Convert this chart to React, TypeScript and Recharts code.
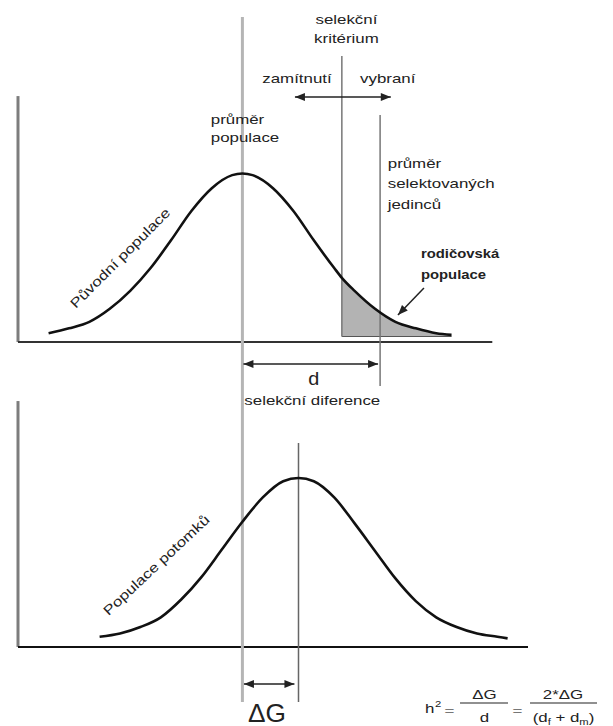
import React from 'react';
import { ComposedChart, Line, Area, XAxis, YAxis, ReferenceLine, ReferenceDot } from 'recharts';

// původní populace – výška křivky (vrchol = 1) na ose znaku 0–100
const puvodniX = [6, 10, 14, 18, 22, 26, 30, 34, 38, 42, 44, 46, 50, 54, 58, 62, 63.5, 66, 70, 74, 78, 82, 85];
const puvodniY = [0.02, 0.05, 0.09, 0.17, 0.28, 0.42, 0.59, 0.77, 0.91, 0.99, 1.0, 0.99, 0.91, 0.77, 0.59, 0.42, 0.36, 0.28, 0.17, 0.09, 0.05, 0.02, 0.01];

// populace potomků
const potomciX = [16, 20, 24, 28, 32, 36, 40, 44, 48, 52, 55, 58, 62, 66, 70, 74, 78, 82, 86, 90, 94, 96];
const potomciY = [0.02, 0.04, 0.08, 0.14, 0.25, 0.39, 0.56, 0.73, 0.88, 0.98, 1.0, 0.98, 0.88, 0.72, 0.55, 0.38, 0.24, 0.14, 0.08, 0.04, 0.02, 0.01];

// průměry a selekční kritérium na ose znaku
const prumerPopulace = 44;
const kriterium = 63.5;
const prumerVybranych = 71;
const prumerPotomku = 55;

const puvodni = puvodniX.map((x, i) => ({ x, y: puvodniY[i] }));
const potomci = potomciX.map((x, i) => ({ x, y: potomciY[i] }));
const rodicovska = puvodni.filter((p) => p.x >= kriterium);

const W = 613;
const H = 726;
const FONT = '"Liberation Sans", Arial, Helvetica, sans-serif';
const INK = '#222';

// both panels live in one plot: each y axis puts its zero line / peak where the picture has it
const TOP_DOMAIN = [-(H - 336.5) / 163, 336.5 / 163];
const BOT_DOMAIN = [-(H - 640) / 162, 640 / 162];

type NoteOpts = {
  lines: string[];
  anchor?: 'start' | 'middle' | 'end';
  size?: number;
  bold?: boolean;
  lh?: number;
  rotate?: number;
  sx?: number;
  central?: boolean;
};

const noteShape = (o: NoteOpts) => (p: any) => {
  const { lines, anchor = 'start', size = 13.5, bold = false, lh = 19, rotate = 0, sx = 1.25, central = false } = o;
  return (
    <g transform={`translate(${p.cx},${p.cy}) rotate(${rotate}) scale(${sx},1)`}>
      {lines.map((t, i) => (
        <text
          key={i}
          x={0}
          y={i * lh}
          textAnchor={anchor}
          dominantBaseline={central ? 'central' : 'alphabetic'}
          fontSize={size}
          fontWeight={bold ? 700 : 400}
          fontFamily={FONT}
          fill={INK}
        >
          {t}
        </text>
      ))}
    </g>
  );
};

const note = (key: string, axis: string, x: number, y: number, o: NoteOpts) => (
  <ReferenceDot key={key} x={x} y={y} yAxisId={axis} ifOverflow="visible" shape={noteShape(o)} />
);

const head = (xa: number, ya: number, xb: number, yb: number) => {
  const a = Math.atan2(yb - ya, xb - xa);
  const L = 10;
  const w = 4;
  const bx = xb - L * Math.cos(a);
  const by = yb - L * Math.sin(a);
  const nx = -Math.sin(a) * w;
  const ny = Math.cos(a) * w;
  return `${xb},${yb} ${bx + nx},${by + ny} ${bx - nx},${by - ny}`;
};

const arrowShape = (both: boolean) => (p: any) => {
  const { x1, y1, x2, y2 } = p;
  return (
    <g>
      <line x1={x1} y1={y1} x2={x2} y2={y2} stroke={INK} strokeWidth={1.5} />
      <polygon points={head(x1, y1, x2, y2)} fill={INK} />
      {both && <polygon points={head(x2, y2, x1, y1)} fill={INK} />}
    </g>
  );
};

const seg = (key: string, axis: string, x1: number, y1: number, x2: number, y2: number, stroke: string, width: number) => (
  <ReferenceLine
    key={key}
    yAxisId={axis}
    ifOverflow="visible"
    segment={[{ x: x1, y: y1 }, { x: x2, y: y2 }]}
    stroke={stroke}
    strokeWidth={width}
  />
);

const arrow = (key: string, axis: string, x1: number, y1: number, x2: number, y2: number, both: boolean) => (
  <ReferenceLine
    key={key}
    yAxisId={axis}
    ifOverflow="visible"
    segment={[{ x: x1, y: y1 }, { x: x2, y: y2 }]}
    shape={arrowShape(both)}
  />
);

const ft = (x: number, y: number, anchor: 'start' | 'middle', content: React.ReactNode, size = 13.5, fill = INK) => (
  <text transform={`translate(${x},${y}) scale(1.25,1)`} textAnchor={anchor} fontSize={size} fontFamily={FONT} fill={fill}>
    {content}
  </text>
);

const formulaShape = (p: any) => (
  <g transform={`translate(${p.cx},${p.cy})`}>
    {ft(-35, 10, 'start', 'h')}
    {ft(-25, 4, 'start', '2', 9)}
    {ft(-10.5, 12, 'middle', '=', 13.5, '#777')}
    <line x1={0} y1={0} x2={48} y2={0} stroke={INK} strokeWidth={1.2} />
    {ft(24.5, -4, 'middle', 'ΔG')}
    {ft(24.5, 19, 'middle', 'd')}
    {ft(57.5, 12, 'middle', '=', 13.5, '#777')}
    <line x1={70} y1={0} x2={137} y2={0} stroke={INK} strokeWidth={1.2} />
    {ft(103, -4, 'middle', '2*ΔG')}
    {ft(
      103.5,
      19,
      'middle',
      <>
        (d
        <tspan fontSize={9} dy={3}>f</tspan>
        <tspan dy={-3}> + d</tspan>
        <tspan fontSize={9} dy={3}>m</tspan>
        <tspan dy={-3}>)</tspan>
      </>
    )}
  </g>
);

export default function App() {
  return (
    <div style={{ position: 'absolute', left: 0, top: 0, width: W, height: H, background: '#fff' }}>
      <ComposedChart width={W} height={H} margin={{ top: 0, right: 85, bottom: 0, left: 18 }}>
        <XAxis type="number" dataKey="x" domain={[0, 100]} hide allowDataOverflow />
        <YAxis yAxisId="top" type="number" domain={TOP_DOMAIN} hide allowDataOverflow />
        <YAxis yAxisId="bottom" type="number" domain={BOT_DOMAIN} hide allowDataOverflow />

        {/* osy */}
        {seg('yTop', 'top', 0, 1.475, 0, -0.034, '#7d7d7d', 3)}
        {seg('xTop', 'top', 0, -0.034, 93, -0.034, '#333', 2)}
        {seg('yBot', 'bottom', 0, 1.475, 0, -0.043, '#7d7d7d', 3)}
        {seg('xBot', 'bottom', 0, -0.043, 100, -0.043, '#111', 2)}

        <Area
          yAxisId="top"
          data={rodicovska}
          dataKey="y"
          type="monotone"
          baseValue={0}
          fill="#b3b3b3"
          fillOpacity={1}
          stroke="none"
          isAnimationActive={false}
        />
        {seg('shadeBase', 'top', kriterium, 0, 85, 0, '#555', 1.2)}

        {/* svislé čáry průměrů a kritéria */}
        {seg('mPop', 'top', prumerPopulace, 1.96, prumerPopulace, -2.242, '#b5b5b5', 3)}
        {seg('krit', 'top', kriterium, 1.721, kriterium, 0, '#777', 1.5)}
        {seg('mSel', 'top', prumerVybranych, 1.359, prumerVybranych, -0.304, '#777', 1.5)}
        {seg('mPot', 'bottom', prumerPotomku, 1.216, prumerPotomku, -0.383, '#666', 1.5)}

        <Line yAxisId="top" data={puvodni} dataKey="y" type="monotone" stroke="#111" strokeWidth={2.6} dot={false} activeDot={false} isAnimationActive={false} />
        <Line yAxisId="bottom" data={potomci} dataKey="y" type="monotone" stroke="#111" strokeWidth={2.6} dot={false} activeDot={false} isAnimationActive={false} />

        {/* šipky */}
        {arrow('aKrit', 'top', 54.3, 1.469, 73.1, 1.469, true)}
        {arrow('aD', 'top', prumerPopulace + 0.2, -0.169, prumerVybranych - 0.4, -0.169, true)}
        {arrow('aG', 'bottom', prumerPopulace + 0.3, -0.272, prumerPotomku - 0.8, -0.272, true)}
        {arrow('aRod', 'top', 79.6, 0.298, 74.5, 0.132, false)}

        {/* popisky */}
        {note('nKrit', 'top', 64.4, 1.917, { lines: ['selekční', 'kritérium'], anchor: 'middle' })}
        {note('nZam', 'top', 54.7, 1.555, { lines: ['zamítnutí'], anchor: 'middle' })}
        {note('nVyb', 'top', 72.5, 1.555, { lines: ['vybraní'], anchor: 'middle' })}
        {note('nPop', 'top', 37.8, 1.304, { lines: ['průměr', 'populace'], lh: 18.5 })}
        {note('nSel', 'top', 72.5, 1.034, { lines: ['průměr', 'selektovaných', 'jedinců'], lh: 20.5 })}
        {note('nRod', 'top', 79, 0.482, { lines: ['rodičovská', 'populace'], bold: true, lh: 21, sx: 1.1 })}
        {note('nD', 'top', 58, -0.298, { lines: ['d'], anchor: 'middle', size: 18, sx: 1.1 })}
        {note('nDif', 'top', 57.7, -0.42, { lines: ['selekční diference'], anchor: 'middle' })}
        {note('nPuv', 'top', 20, 0.482, { lines: ['Původní populace'], anchor: 'middle', rotate: -45, central: true })}
        {note('nPot', 'bottom', 27.1, 0.463, { lines: ['Populace potomků'], anchor: 'middle', rotate: -43, central: true })}
        {note('nG', 'bottom', 48.8, -0.506, { lines: ['ΔG'], anchor: 'middle', size: 25, sx: 1.05 })}
        <ReferenceDot x={86.67} y={-0.389} yAxisId="bottom" ifOverflow="visible" shape={formulaShape} />
      </ComposedChart>
    </div>
  );
}
